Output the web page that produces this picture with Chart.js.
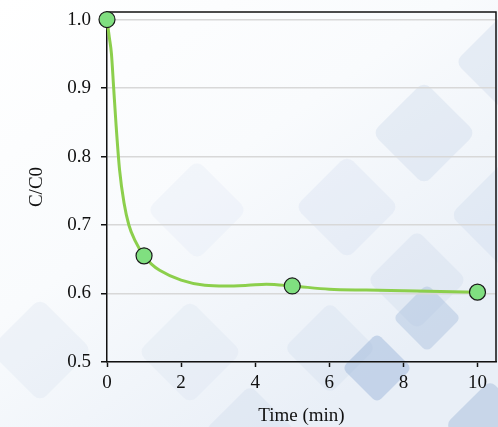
<!DOCTYPE html>
<html>
<head>
<meta charset="utf-8">
<script src="https://cdn.jsdelivr.net/npm/chart.js@4"></script>
<style>
  html, body { margin: 0; padding: 0; background: #fff; }
  #wrap { width: 498px; height: 427px; }
</style>
</head>
<body>
<div id="wrap"><canvas id="kineticsChart" width="498" height="427"></canvas></div>
<script>
// measured points
const timeMin = [0, 1, 5, 10];
const ratio = [1.0, 0.655, 0.611, 0.602];

// fitted curve
const fitTime = [0, 0.06, 0.12, 0.18, 0.24, 0.34, 0.46, 0.59, 0.75, 1, 1.2, 1.42, 2, 2.64, 3.2, 3.8, 4.3, 5, 6, 7, 8, 9, 10];
const fitRatio = [1.0, 0.975, 0.95, 0.9, 0.85, 0.78, 0.732, 0.7, 0.678, 0.655, 0.643, 0.634, 0.6195, 0.612, 0.611, 0.612, 0.6135, 0.611, 0.6063, 0.605, 0.604, 0.603, 0.602];

const xTicks = [0, 2, 4, 6, 8, 10];
const yTicks = [0.5, 0.6, 0.7, 0.8, 0.9, 1.0];

// decorative diamonds: [cx, cy, half diagonal, colour]
const diamonds = [
    [40, 350, 52, 'rgba(214,224,238,0.3)'],
    [190, 352, 52, 'rgba(214,224,238,0.3)'],
    [197, 210, 50, 'rgba(218,228,242,0.25)'],
    [347, 207, 52, 'rgba(208,220,238,0.3)'],
    [424, 133, 52, 'rgba(205,218,236,0.4)'],
    [505, 62, 50, 'rgba(205,218,236,0.4)'],
    [505, 215, 55, 'rgba(208,220,238,0.4)'],
    [417, 280, 50, 'rgba(205,218,236,0.35)'],
    [330, 348, 46, 'rgba(205,218,236,0.3)'],
    [427, 318, 34, 'rgba(160,185,218,0.4)'],
    [377, 368, 35, 'rgba(150,178,214,0.45)'],
    [490, 425, 45, 'rgba(160,185,215,0.45)'],
    [250, 430, 45, 'rgba(205,218,236,0.35)'],
];

const backdrop = {
    id: 'backdrop',
    beforeDraw(chart) {
        const ctx = chart.ctx;
        const w = chart.width, h = chart.height;
        ctx.save();
        const g = ctx.createLinearGradient(0, 0, w * 0.6, h);
        g.addColorStop(0, '#ffffff');
        g.addColorStop(0.5, '#f9fbfd');
        g.addColorStop(1, '#e9eff7');
        ctx.fillStyle = g;
        ctx.fillRect(0, 0, w, h);
        diamonds.forEach(([cx, cy, r, col]) => {
            const s = r * Math.SQRT2;
            ctx.save();
            ctx.translate(cx, cy);
            ctx.rotate(Math.PI / 4);
            ctx.fillStyle = col;
            ctx.beginPath();
            ctx.roundRect(-s / 2, -s / 2, s, s, s * 0.12);
            ctx.fill();
            ctx.restore();
        });
        ctx.restore();
    },
    beforeDatasetsDraw(chart) {
        const { ctx, chartArea: a } = chart;
        ctx.save();
        ctx.strokeStyle = '#111';
        ctx.lineWidth = 1.5;
        ctx.beginPath();
        ctx.moveTo(a.left, a.top);
        ctx.lineTo(a.right, a.top);
        ctx.lineTo(a.right, a.bottom);
        ctx.stroke();
        ctx.restore();
    }
};

const serif = { family: '"Liberation Serif", "Times New Roman", serif', size: 19 };

const ctx = document.getElementById('kineticsChart').getContext('2d');

new Chart(ctx, {
    type: 'scatter',
    data: {
        datasets: [{
            label: 'C/C0',
            data: timeMin.map((t, i) => ({ x: t, y: ratio[i] })),
            pointRadius: 8,
            pointHoverRadius: 8,
            pointBackgroundColor: '#80df80',
            pointBorderColor: '#1a1a1a',
            pointBorderWidth: 1.2,
            showLine: false,
            order: 0,
            clip: false,
        }, {
            label: 'fit',
            data: fitTime.map((t, i) => ({ x: t, y: fitRatio[i] })),
            showLine: true,
            borderColor: '#8ccf4c',
            borderWidth: 3,
            pointRadius: 0,
            cubicInterpolationMode: 'monotone',
            order: 1,
            clip: false,
        }],
    },
    options: {
        responsive: false,
        animation: false,
        layout: { autoPadding: false, padding: { left: 0, right: 2, top: 12, bottom: 0 } },
        plugins: {
            legend: { display: false },
            tooltip: { enabled: false },
        },
        scales: {
            x: {
                type: 'linear',
                min: 0,
                max: 10.5,
                afterBuildTicks: (scale) => { scale.ticks = xTicks.map(v => ({ value: v })); },
                afterFit: (scale) => {
                    scale.height = 65;
                    scale.paddingLeft = 0;
                    scale.paddingRight = 0;
                },
                border: { display: true, color: '#111', width: 1.5 },
                grid: { drawOnChartArea: false, drawTicks: true, tickLength: 5, tickColor: '#111', tickWidth: 1.5 },
                ticks: { color: '#111', font: serif, padding: 5, maxRotation: 0 },
                title: { display: true, text: 'Time (min)', color: '#111', font: serif, padding: { top: 0, bottom: 0 } },
            },
            y: {
                type: 'linear',
                min: 0.5,
                max: 1.011,
                afterBuildTicks: (scale) => { scale.ticks = yTicks.map(v => ({ value: v })); },
                afterFit: (scale) => {
                    scale.width = 107;
                    scale.paddingTop = 0;
                    scale.paddingBottom = 0;
                },
                border: { display: true, color: '#111', width: 1.5 },
                grid: { color: '#d8d8d8', lineWidth: 1.5, drawTicks: true, tickLength: 6, tickColor: '#111', tickWidth: 1.5 },
                ticks: { color: '#111', font: serif, padding: 10, callback: (v) => v.toFixed(1) },
                title: { display: true, text: 'C/C0', color: '#111', font: serif, padding: { top: 26, bottom: 0 } },
            },
        },
    },
    plugins: [backdrop],
});
</script>
</body>
</html>
